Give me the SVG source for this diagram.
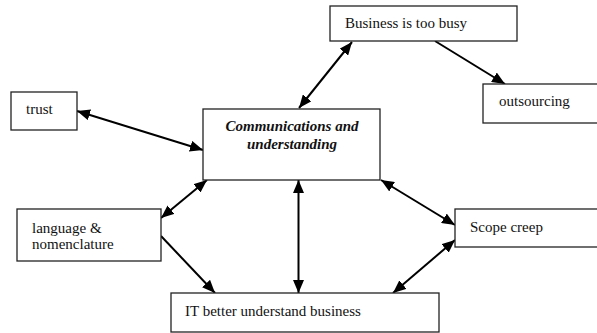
<svg xmlns="http://www.w3.org/2000/svg" width="597" height="333" viewBox="0 0 597 333">
  <style>
    .box { fill: #fff; stroke: #222; stroke-width: 1.3; }
    .lbl { font-family: "Liberation Serif", "Times New Roman", serif; font-size: 15px; fill: #111; }
    .hub { font-family: "Liberation Serif", "Times New Roman", serif; font-size: 15px; font-weight: bold; font-style: italic; fill: #111; }
    .link { stroke: #000; stroke-width: 2; fill: none; }
  </style>
  <defs>
    <marker id="head" viewBox="0 0 13 11" refX="13" refY="5.5" markerWidth="13" markerHeight="11" markerUnits="userSpaceOnUse" orient="auto-start-reverse">
      <path d="M0,0 L13,5.5 L0,11 Z" fill="#000"/>
    </marker>
  </defs>
  <rect width="597" height="333" fill="#fff"/>

  <g id="connectors">
    <line class="link" x1="77" y1="111" x2="203" y2="150" marker-start="url(#head)" marker-end="url(#head)"/>
    <line class="link" x1="299" y1="108" x2="352" y2="42" marker-start="url(#head)" marker-end="url(#head)"/>
    <line class="link" x1="435" y1="41" x2="505" y2="84" marker-end="url(#head)"/>
    <line class="link" x1="207" y1="180" x2="161" y2="218" marker-start="url(#head)" marker-end="url(#head)"/>
    <line class="link" x1="161" y1="236" x2="215" y2="293" marker-end="url(#head)"/>
    <line class="link" x1="298.5" y1="180" x2="298.5" y2="293" marker-start="url(#head)" marker-end="url(#head)"/>
    <line class="link" x1="381" y1="180" x2="455" y2="225" marker-start="url(#head)" marker-end="url(#head)"/>
    <line class="link" x1="455" y1="240" x2="393" y2="293" marker-start="url(#head)" marker-end="url(#head)"/>
  </g>

  <g id="business">
    <rect class="box" x="330" y="6" width="187" height="35"/>
    <text class="lbl" x="345" y="28">Business is too busy</text>
  </g>
  <g id="outsourcing">
    <rect class="box" x="483" y="84" width="120" height="39"/>
    <text class="lbl" x="499" y="106">outsourcing</text>
  </g>
  <g id="trust">
    <rect class="box" x="11" y="92" width="66" height="38"/>
    <text class="lbl" x="26" y="114">trust</text>
  </g>
  <g id="communications">
    <rect class="box" x="203" y="109" width="177" height="71"/>
    <text class="hub" x="292" y="131" text-anchor="middle">Communications and</text>
    <text class="hub" x="292" y="149" text-anchor="middle">understanding</text>
  </g>
  <g id="language">
    <rect class="box" x="17" y="209" width="144" height="52"/>
    <text class="lbl" x="32" y="233">language &amp;</text>
    <text class="lbl" x="32" y="249">nomenclature</text>
  </g>
  <g id="scope">
    <rect class="box" x="455" y="209" width="150" height="38"/>
    <text class="lbl" x="470" y="232">Scope creep</text>
  </g>
  <g id="it">
    <rect class="box" x="171" y="293" width="268" height="39"/>
    <text class="lbl" x="185" y="316">IT better understand business</text>
  </g>
</svg>
